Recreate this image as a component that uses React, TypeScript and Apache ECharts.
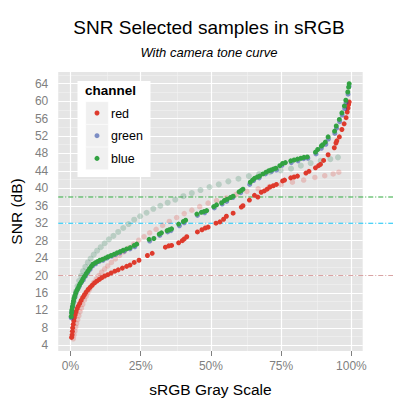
import React, { useEffect, useRef } from "react";
import * as echarts from "echarts";

const FONT = "'Liberation Sans', Arial, sans-serif";

const xTicks = [0, 0.25, 0.5, 0.75, 1];
const xMinor = [0.125, 0.375, 0.625, 0.875];
const yTicks = [4, 8, 12, 16, 20, 24, 28, 32, 36, 40, 44, 48, 52, 56, 60, 64];
const yMinor = [6, 10, 14, 18, 22, 26, 30, 34, 38, 42, 46, 50, 54, 58, 62, 66];

const refValues = [38, 32, 20];
const refColors = ["#2EAA3C", "#12C3F5", "#D9A3A3"];

const legendNames = ["red", "green", "blue"];

const redSel: number[][] = [
  [0.004, 5.8], [0.006, 6.4], [0.007, 7.2], [0.008, 8.0], [0.010, 8.8], [0.012, 9.6], [0.014, 10.3],
  [0.017, 11.0], [0.020, 11.7], [0.024, 12.4], [0.028, 13.0], [0.033, 13.6], [0.038, 14.3], [0.044, 15.0],
  [0.050, 15.6], [0.056, 16.2], [0.063, 16.8], [0.070, 17.3], [0.078, 17.8], [0.086, 18.3], [0.094, 18.7],
  [0.103, 19.1], [0.112, 19.5], [0.122, 19.9], [0.133, 20.2], [0.145, 20.6], [0.158, 21.0], [0.170, 21.3],
  [0.185, 21.7], [0.200, 22.1], [0.212, 22.4], [0.227, 23.0], [0.244, 23.5], [0.274, 24.6], [0.291, 25.1],
  [0.338, 26.5], [0.350, 26.8], [0.360, 26.9], [0.385, 27.5], [0.398, 28.0], [0.405, 28.4], [0.414, 28.9],
  [0.452, 30.0], [0.468, 30.5], [0.480, 30.9], [0.490, 31.1], [0.518, 32.0], [0.532, 32.3], [0.545, 32.9],
  [0.555, 33.6], [0.579, 34.3], [0.608, 35.7], [0.614, 36.0], [0.637, 37.3], [0.655, 38.4], [0.667, 38.0],
  [0.679, 39.1], [0.690, 39.4], [0.700, 39.8], [0.710, 40.3], [0.722, 40.6], [0.733, 40.9], [0.755, 41.7],
  [0.762, 41.9], [0.784, 42.4], [0.796, 42.6], [0.808, 42.8], [0.838, 43.5], [0.849, 43.9], [0.872, 44.7],
  [0.883, 45.2], [0.890, 45.5], [0.901, 46.4], [0.917, 47.7], [0.939, 49.3], [0.945, 50.4], [0.948, 50.9],
  [0.957, 51.8], [0.966, 53.5], [0.974, 54.8], [0.981, 56.2], [0.985, 57.5], [0.988, 58.4], [0.990, 59.2],
  [0.992, 59.8],
];

const greenSel: number[][] = [
  [0.003, 10.3], [0.005, 11.7], [0.008, 13.0], [0.011, 14.0], [0.015, 15.0], [0.020, 16.0], [0.026, 16.9],
  [0.032, 17.6], [0.039, 18.4], [0.046, 19.0], [0.054, 19.9], [0.062, 20.7], [0.070, 21.4], [0.079, 22.2],
  [0.090, 22.7], [0.102, 23.2], [0.116, 23.5], [0.130, 24.0], [0.146, 24.4], [0.160, 24.8], [0.176, 25.2],
  [0.192, 25.6], [0.212, 26.1], [0.229, 26.6], [0.282, 27.9], [0.318, 29.2], [0.346, 30.0], [0.358, 30.3],
  [0.388, 31.4], [0.405, 32.1], [0.452, 33.8], [0.478, 34.4], [0.512, 35.5], [0.540, 36.4], [0.556, 37.0],
  [0.578, 37.9], [0.606, 39.0], [0.638, 40.9], [0.652, 41.8], [0.672, 42.4], [0.694, 43.3], [0.716, 43.9],
  [0.733, 44.2], [0.753, 45.3], [0.786, 45.9], [0.810, 46.3], [0.830, 46.8], [0.845, 46.9], [0.874, 47.9],
  [0.893, 49.2], [0.909, 50.1], [0.918, 51.3], [0.941, 52.6], [0.947, 53.8], [0.958, 55.3], [0.967, 56.8],
  [0.976, 58.3], [0.981, 59.7], [0.988, 61.6], [0.992, 63.4],
];

const blueSel: number[][] = [
  [0.003, 10.6], [0.004, 11.4], [0.005, 12.1], [0.007, 12.8], [0.009, 13.5], [0.011, 14.2], [0.013, 14.8],
  [0.016, 15.4], [0.019, 16.0], [0.023, 16.6], [0.027, 17.1], [0.031, 17.7], [0.035, 18.2], [0.040, 18.7],
  [0.045, 19.3], [0.050, 19.8], [0.056, 20.4], [0.062, 21.0], [0.068, 21.6], [0.074, 22.1], [0.080, 22.6],
  [0.088, 22.9], [0.096, 23.2], [0.105, 23.5], [0.114, 23.7], [0.124, 24.0], [0.134, 24.3], [0.145, 24.6],
  [0.156, 24.9], [0.166, 25.2], [0.177, 25.5], [0.188, 25.8], [0.200, 26.1], [0.213, 26.4], [0.227, 26.9],
  [0.236, 27.2], [0.280, 28.3], [0.297, 28.5], [0.316, 29.5], [0.324, 29.8], [0.344, 30.3], [0.352, 30.5],
  [0.360, 30.7], [0.385, 31.8], [0.402, 32.4], [0.410, 32.7], [0.450, 34.1], [0.466, 34.5], [0.476, 34.7],
  [0.485, 34.9], [0.510, 35.8], [0.520, 36.2], [0.538, 36.7], [0.548, 37.2], [0.558, 37.5], [0.570, 37.9],
  [0.579, 38.2], [0.600, 39.2], [0.608, 39.5], [0.614, 39.8], [0.640, 41.4], [0.648, 41.9], [0.655, 42.3],
  [0.665, 42.6], [0.673, 42.8], [0.685, 43.3], [0.696, 43.7], [0.705, 44.0], [0.714, 44.2], [0.722, 44.4],
  [0.731, 44.6], [0.745, 45.2], [0.755, 45.7], [0.765, 45.9], [0.784, 46.3], [0.796, 46.5], [0.808, 46.7],
  [0.820, 46.9], [0.831, 47.1], [0.843, 47.2], [0.872, 48.3], [0.880, 48.9], [0.893, 49.7], [0.898, 50.0],
  [0.907, 50.6], [0.917, 51.8], [0.940, 53.1], [0.946, 54.3], [0.957, 55.8], [0.966, 57.3], [0.975, 58.9],
  [0.980, 60.2], [0.987, 62.1], [0.990, 63.2], [0.992, 64.0],
];

const redAll: number[][] = [
  [0.010, 5.5], [0.013, 6.4], [0.016, 7.3], [0.019, 8.2], [0.022, 9.0], [0.026, 9.9], [0.030, 10.8],
  [0.034, 11.7], [0.039, 12.5], [0.044, 13.4], [0.050, 14.4], [0.056, 15.3], [0.062, 16.1], [0.068, 16.8],
  [0.075, 17.6], [0.083, 18.4], [0.092, 19.2], [0.101, 20.0], [0.111, 20.8], [0.122, 21.5], [0.133, 22.2],
  [0.146, 23.0], [0.160, 23.8], [0.175, 24.6], [0.190, 25.4], [0.207, 26.3], [0.225, 27.2], [0.243, 28.1],
  [0.262, 28.9], [0.282, 29.8], [0.305, 30.6], [0.328, 31.5], [0.352, 32.4], [0.378, 33.3], [0.405, 34.2],
  [0.432, 35.0], [0.460, 35.8], [0.490, 36.6], [0.520, 37.2], [0.555, 37.8], [0.590, 38.6], [0.628, 39.3],
  [0.668, 39.9], [0.708, 40.4], [0.750, 40.9], [0.790, 41.4], [0.830, 41.9], [0.870, 42.5], [0.905, 42.9],
  [0.935, 43.3], [0.955, 43.7],
];

const blueAll: number[][] = [
  [0.004, 10.5], [0.006, 11.6], [0.009, 12.8], [0.012, 14.0], [0.016, 15.2], [0.020, 16.4], [0.025, 17.6],
  [0.031, 18.8], [0.038, 19.9], [0.045, 21.0], [0.053, 22.0], [0.062, 23.0], [0.072, 23.9], [0.083, 24.8],
  [0.095, 25.7], [0.108, 26.5], [0.122, 27.4], [0.137, 28.3], [0.153, 29.1], [0.170, 30.0], [0.188, 30.9],
  [0.207, 31.8], [0.227, 32.8], [0.248, 33.6], [0.271, 34.4], [0.295, 35.3], [0.320, 36.0], [0.346, 36.7],
  [0.373, 37.4], [0.402, 38.2], [0.432, 38.9], [0.463, 39.6], [0.495, 40.3], [0.528, 40.9], [0.562, 41.6],
  [0.598, 42.2], [0.635, 42.8], [0.672, 43.3], [0.710, 43.7], [0.748, 44.1], [0.785, 44.5], [0.820, 45.2],
  [0.855, 45.8], [0.890, 46.3], [0.925, 46.7], [0.952, 47.1],
];

const RED = "#DE3A2C";
const BLUEGREY = "rgba(40,70,170,0.55)";
const GREEN = "#32A242";
const seriesColors = [RED, "#7C8DC4", GREEN];

const X_MIN = -0.0433;
const X_MAX = 1.0401;
const Y_MIN = 2.69;
const Y_MAX = 66.68;
const DASH = [5, 2, 1, 2];

export default function App() {
  const ref = useRef<HTMLDivElement>(null);

  useEffect(() => {
    if (!ref.current) return;
    const chart = echarts.init(ref.current, null, { renderer: "svg" });

    const gridMarks = [
      ...yMinor.map((v) => ({ yAxis: v, lineStyle: { color: "#F2F2F2", width: 0.6, type: "solid" } })),
      ...xMinor.map((v) => ({ xAxis: v, lineStyle: { color: "#F2F2F2", width: 0.6, type: "solid" } })),
      ...yTicks.map((v) => ({ yAxis: v, lineStyle: { color: "#FFFFFF", width: 1.2, type: "solid" } })),
      ...xTicks.map((v) => ({ xAxis: v, lineStyle: { color: "#FFFFFF", width: 1.2, type: "solid" } })),
    ];

    const ZL = 20;
    const legendItems: any[] = [
      { type: "rect", z: ZL, shape: { x: 77.5, y: 81, width: 73, height: 96 }, style: { fill: "#FFFFFF" } },
      {
        type: "text", z: ZL + 1, x: 85, y: 90.5,
        style: { text: "channel", fontFamily: FONT, fontSize: 13.5, fontWeight: "bold", fill: "#000", textVerticalAlign: "middle", verticalAlign: "middle" },
      },
    ];
    legendNames.forEach((name, i) => {
      const y0 = 101.7 + i * 22.7;
      legendItems.push(
        { type: "rect", z: ZL + 1, shape: { x: 85.7, y: y0, width: 22.6, height: 22.6 }, style: { fill: "#F0F0F0", stroke: "#FFFFFF", lineWidth: 0.5 } },
        { type: "circle", z: ZL + 2, shape: { cx: 97, cy: y0 + 11.3, r: 2.5 }, style: { fill: seriesColors[i] } },
        {
          type: "text", z: ZL + 2, x: 111, y: y0 + 12,
          style: { text: name, fontFamily: FONT, fontSize: 12.5, fill: "#000", textVerticalAlign: "middle", verticalAlign: "middle" },
        }
      );
    });

    const baseGraphic: any[] = [
      {
        type: "text", x: 209, y: 27.5,
        style: { text: "SNR Selected samples in sRGB", fontFamily: FONT, fontSize: 19, fill: "#000", textAlign: "center", align: "center", textVerticalAlign: "middle", verticalAlign: "middle" },
      },
      {
        type: "text", x: 209, y: 52.8,
        style: { text: "With camera tone curve", fontFamily: FONT, fontSize: 13, fontStyle: "italic", fill: "#000", textAlign: "center", align: "center", textVerticalAlign: "middle", verticalAlign: "middle" },
      },
      ...legendItems,
    ];

    const scatter = (name: string, data: number[][], color: string, size: number, z: number) => ({
      type: "scatter", name, data, symbol: "circle", symbolSize: size, z,
      itemStyle: { color, opacity: 1 }, silent: true,
    });

    const option: any = {
      animation: false,
      backgroundColor: "#FFFFFF",
      textStyle: { fontFamily: FONT },
      grid: { left: 55, top: 72, width: 307.7, height: 279, show: true, backgroundColor: "#E5E5E5", borderWidth: 0 },
      xAxis: {
        type: "value", min: X_MIN, max: X_MAX,
        axisLine: { show: false }, splitLine: { show: false },
        axisTick: { show: true, customValues: xTicks, length: 5, lineStyle: { color: "#7F7F7F", width: 1 } },
        axisLabel: { customValues: xTicks, formatter: (v: number) => Math.round(v * 100) + "%", color: "#7F7F7F", fontSize: 12, margin: 9, fontFamily: FONT },
        name: "sRGB Gray Scale", nameLocation: "middle", nameGap: 30,
        nameTextStyle: { color: "#000", fontSize: 15.5, fontFamily: FONT },
      },
      yAxis: {
        type: "value", min: Y_MIN, max: Y_MAX, offset: 2,
        axisLine: { show: false }, splitLine: { show: false },
        axisTick: { show: true, customValues: yTicks, length: 5, lineStyle: { color: "#7F7F7F", width: 1 } },
        axisLabel: { customValues: yTicks, color: "#7F7F7F", fontSize: 12, margin: 8, fontFamily: FONT },
        name: "SNR (dB)", nameLocation: "middle", nameGap: 25,
        nameTextStyle: { color: "#000", fontSize: 15.5, fontFamily: FONT },
      },
      series: [
        {
          type: "line", data: [], z: 1, silent: true,
          markLine: { z: 1, silent: true, symbol: "none", label: { show: false }, data: gridMarks, animation: false },
        },
        scatter("red all", redAll, "rgba(224,54,44,0.22)", 5.5, 3),
        scatter("blue all", blueAll, "rgba(82,149,116,0.3)", 6, 3),
        scatter("red", redSel, RED, 5, 4),
        scatter("green", greenSel, BLUEGREY, 5, 5),
        scatter("blue", blueSel, GREEN, 5, 6),
      ],
      graphic: baseGraphic,
    };

    chart.setOption(option);

    // reference lines: from the panel's left edge to the right edge of the picture
    const left = chart.convertToPixel({ xAxisIndex: 0 }, X_MIN) as number;
    const lines = refValues.map((v, i) => {
      const y = chart.convertToPixel({ yAxisIndex: 0 }, v) as number;
      return {
        type: "line", z: 2,
        shape: { x1: left, y1: y, x2: 393, y2: y },
        style: { stroke: refColors[i], lineWidth: 1.1, lineDash: DASH },
      };
    });
    option.graphic = [...lines, ...baseGraphic];
    chart.setOption(option, true);

    return () => chart.dispose();
  }, []);

  return (
    <div
      ref={ref}
      style={{ position: "absolute", left: 0, top: 0, width: 393, height: 404, background: "#fff" }}
    />
  );
}
